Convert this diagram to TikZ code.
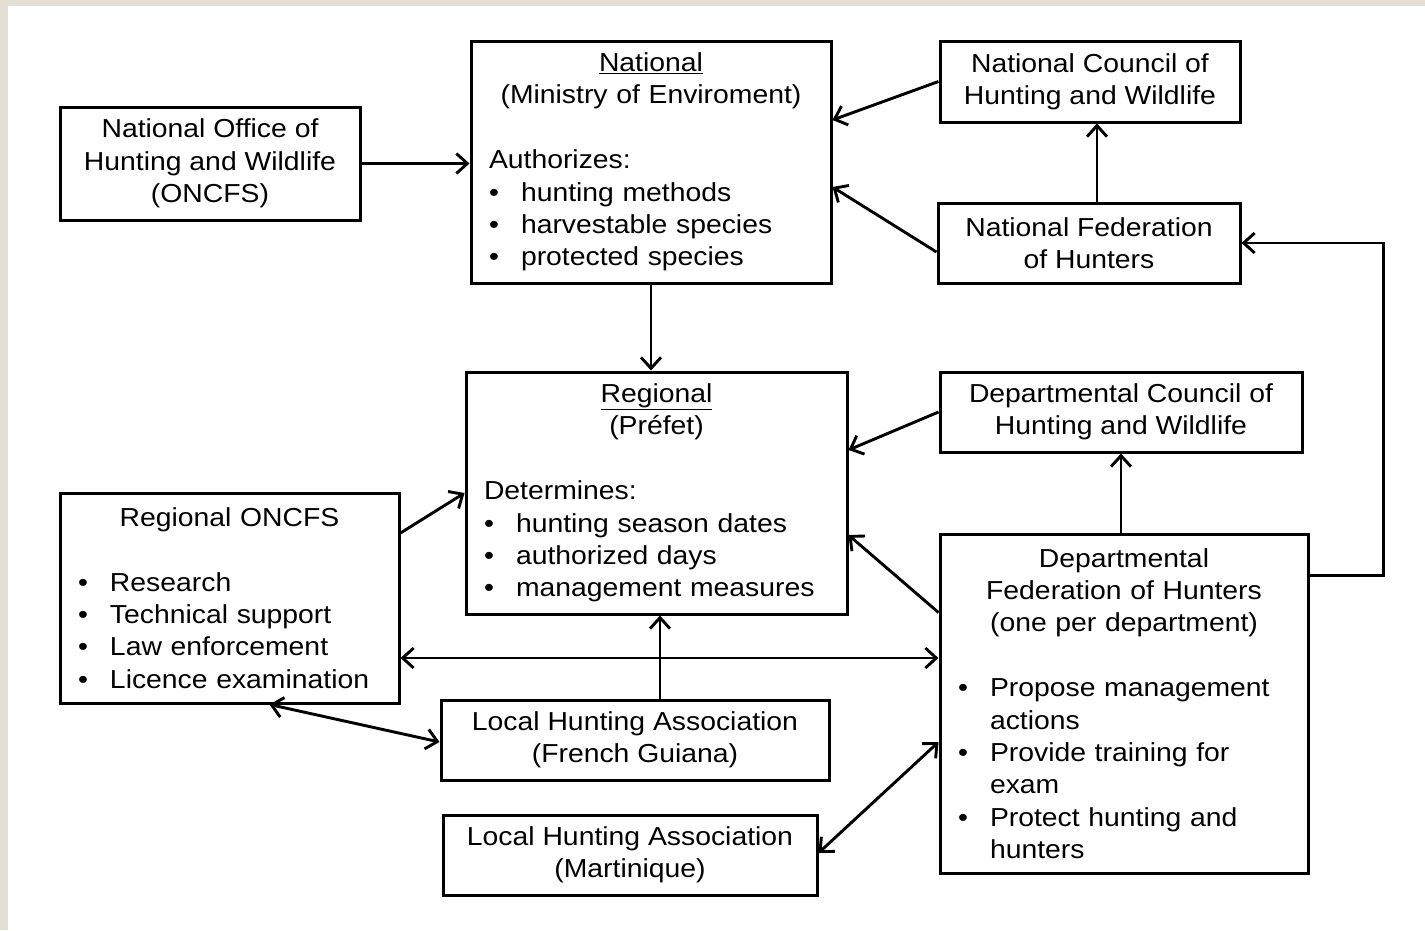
\documentclass[tikz,border=0pt]{standalone}
\usepackage{fontspec}
\setmainfont{Liberation Sans}[FakeStretch=1.09]
\usepackage{tikz}
\usetikzlibrary{arrows.meta,calc}
\definecolor{paper}{RGB}{229,222,210}
\newcommand\bul{\makebox[32pt][l]{\textbullet}}
\newcommand\hang{\hspace*{32pt}}
\newcommand\hd[1]{\makebox[\linewidth][c]{#1}}

\begin{document}
\begin{tikzpicture}[x=1pt,y=-1pt,
  box/.style={draw,line width=3pt,inner sep=0pt,align=center,
    font=\fontsize{26pt}{32.4pt}\selectfont},
  listbox/.style={box,align=left,inner xsep=18pt},
  arr/.style={line width=2.9pt,-{Straight Barb[length=11pt,width=20pt]}},
  biarr/.style={line width=2.9pt,{Straight Barb[length=11pt,width=20pt]}-{Straight Barb[length=11pt,width=20pt]}}]
  \fill[paper] (0,0) rectangle (1425,930);
  \fill[white] (8,6) rectangle (1425,930);
  \node[box,minimum width=300pt,minimum height=113pt] (oncfs) at (210,163.5)
    {National Office of\\Hunting and Wildlife\\(ONCFS)};
  \node[listbox,text width=324pt,minimum height=242pt] (nat) at (651,162)
    {\hd{\underline{National}}\\ \hd{(Ministry of Enviroment)}\\[32.4pt]
     Authorizes:\\ \bul hunting methods\\ \bul harvestable species\\ \bul protected species};
  \node[box,minimum width=300pt,minimum height=81pt] (ncouncil) at (1090,81.5)
    {National Council of\\Hunting and Wildlife};
  \node[box,minimum width=302pt,minimum height=80pt] (nfed) at (1089,243)
    {National Federation\\of Hunters};
  \node[listbox,text width=345pt,minimum height=242pt] (reg) at (656.5,493)
    {\hd{\underline{Regional}}\\ \hd{(Préfet)}\\[32.4pt]
     Determines:\\ \bul hunting season dates\\ \bul authorized days\\ \bul management measures};
  \node[box,minimum width=362pt,minimum height=80pt] (dcouncil) at (1121,412)
    {Departmental Council of\\Hunting and Wildlife};
  \node[listbox,text width=303pt,minimum height=210pt] (roncfs) at (229.5,598)
    {\hd{Regional ONCFS}\\[32.4pt]
     \bul Research\\ \bul Technical support\\ \bul Law enforcement\\ \bul Licence examination};
  \node[listbox,text width=332pt,minimum height=339pt] (dfed) at (1124,703.5)
    {\hd{Departmental}\\ \hd{Federation of Hunters}\\ \hd{(one per department)}\\[32.4pt]
     \bul Propose management\\ \hang actions\\ \bul Provide training for\\ \hang exam\\
     \bul Protect hunting and\\ \hang hunters};
  \node[box,minimum width=388pt,minimum height=80pt] (lfg) at (635,740)
    {Local Hunting Association\\(French Guiana)};
  \node[box,minimum width=374pt,minimum height=80pt] (lmart) at (630,855)
    {Local Hunting Association\\(Martinique)};

  \draw[arr] (oncfs.east) -- (oncfs.east -| nat.west);
  \draw[arr] (ncouncil.west) -- ($(nat.east)+(0,-42)$);
  \draw[arr] ($(nfed.west)+(0,9)$) -- ($(nat.east)+(0,25)$);
  \draw[arr] ($(nfed.north)+(8,0)$) coordinate (nf) -- (nf |- ncouncil.south);
  \draw[arr] (nat.south) -- (nat.south |- reg.north);
  \draw[arr] (dcouncil.west) -- ($(reg.east)+(0,-43)$);
  \draw[arr] ($(dfed.west)+(0,-91)$) -- ($(reg.east)+(0,42)$);
  \draw[arr] (dcouncil.south |- dfed.north) -- (dcouncil.south);
  \draw[arr] ($(dfed.east)+(0,-128)$) -- ++(74,0) |- (nfed.east);
  \draw[arr] ($(roncfs.east)+(0,-65)$) -- (reg.west);
  \draw[biarr] ($(roncfs.east)+(0,60)$) coordinate (rl) -- (rl -| dfed.west);
  \draw[biarr] ($(roncfs.south)+(40,0)$) -- ($(lfg.west)+(0,2)$);
  \draw[arr] ($(lfg.north)+(25,0)$) coordinate (lf) -- (lf |- reg.south);
  \draw[biarr] ($(lmart.east)+(0,-2)$) -- ($(dfed.west)+(0,38.5)$);
\end{tikzpicture}
\end{document}
